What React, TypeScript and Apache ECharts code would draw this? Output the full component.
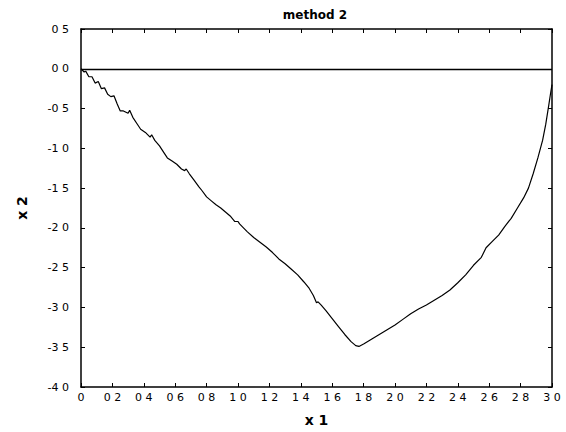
import React, { useEffect, useRef } from "react";
import * as echarts from "echarts";

const titleText = "method 2";
const xName = "x 1";
const yName = "x 2";

const curveX = [
  0, 0.02, 0.03, 0.05, 0.07, 0.09, 0.11, 0.13, 0.15, 0.17, 0.19, 0.21, 0.23, 0.25, 0.27, 0.3, 0.31, 0.33,
  0.36, 0.38, 0.41, 0.44, 0.45, 0.47, 0.5, 0.53, 0.55, 0.58, 0.61, 0.64, 0.66, 0.67, 0.69, 0.72, 0.75,
  0.77, 0.8, 0.83, 0.86, 0.89, 0.92, 0.95, 0.98, 1.0, 1.01, 1.03, 1.06, 1.1, 1.14, 1.18, 1.22, 1.26,
  1.3, 1.34, 1.38, 1.42, 1.45, 1.48, 1.5, 1.51, 1.53, 1.56, 1.6, 1.64, 1.68, 1.72, 1.75, 1.77, 1.8,
  1.85, 1.9, 1.95, 2.0, 2.05, 2.1, 2.15, 2.2, 2.25, 2.3, 2.35, 2.4, 2.45, 2.5, 2.55, 2.58, 2.62, 2.66,
  2.7, 2.74, 2.78, 2.82, 2.85, 2.88, 2.91, 2.94, 2.96, 2.98, 2.99, 3.0,
];
const curveY = [
  0, -0.04, -0.03, -0.1, -0.1, -0.18, -0.16, -0.25, -0.24, -0.32, -0.35, -0.34, -0.44, -0.53, -0.53,
  -0.56, -0.52, -0.61, -0.7, -0.76, -0.8, -0.86, -0.83, -0.9, -0.97, -1.06, -1.12, -1.16, -1.2, -1.26,
  -1.28, -1.26, -1.32, -1.4, -1.48, -1.53, -1.61, -1.66, -1.71, -1.75, -1.8, -1.85, -1.92, -1.92, -1.95,
  -1.99, -2.05, -2.12, -2.18, -2.24, -2.31, -2.39, -2.45, -2.52, -2.59, -2.68, -2.75, -2.85, -2.94, -2.93,
  -2.97, -3.04, -3.14, -3.24, -3.34, -3.43, -3.48, -3.49, -3.46, -3.4, -3.34, -3.28, -3.22, -3.15, -3.08,
  -3.02, -2.97, -2.91, -2.85, -2.78, -2.69, -2.59, -2.47, -2.37, -2.25, -2.17, -2.09, -1.98, -1.88,
  -1.75, -1.62, -1.5, -1.32, -1.12, -0.9, -0.7, -0.45, -0.32, -0.2,
];
const zeroLineY = 0;

const fmt = (v: number) => v.toFixed(1).replace(".", " ");

export default function App() {
  const ref = useRef<HTMLDivElement>(null);
  useEffect(() => {
    document.body.style.margin = "0";
    const chart = echarts.init(ref.current!, null, { renderer: "svg" });
    const font = "DejaVu Sans";
    const axisCommon = {
      type: "value" as const,
      axisLine: { show: true, onZero: false, lineStyle: { color: "#000", width: 1.5 } },
      axisTick: { show: true, inside: true, length: 4, lineStyle: { color: "#000", width: 1 } },
      splitLine: { show: false },
    };
    chart.setOption({
      animation: false,
      backgroundColor: "#fff",
      title: {
        text: titleText,
        left: 310,
        textAlign: "center",
        top: 4,
        textStyle: { fontFamily: font, fontSize: 12, fontWeight: "bold", color: "#000" },
      },
      grid: { left: 81, right: 14, top: 29, bottom: 44 },
      xAxis: [
        {
          ...axisCommon,
          position: "bottom",
          min: 0,
          max: 3,
          interval: 0.2,
          name: xName,
          nameLocation: "middle",
          nameGap: 26,
          nameTextStyle: { fontFamily: font, fontSize: 14, fontWeight: "bold", color: "#000" },
          axisLabel: {
            margin: 5,
            hideOverlap: false,
            fontFamily: font,
            fontSize: 11,
            color: "#000",
            formatter: (v: number) => (v === 0 ? "0" : fmt(v)),
          },
        },
        {
          ...axisCommon,
          position: "top",
          min: 0,
          max: 3,
          interval: 0.2,
          axisLabel: { show: false },
        },
      ],
      yAxis: [
        {
          ...axisCommon,
          position: "left",
          min: -4,
          max: 0.5,
          interval: 0.5,
          name: yName,
          nameLocation: "middle",
          nameGap: 52,
          nameRotate: 90,
          nameTextStyle: { fontFamily: font, fontSize: 14, fontWeight: "bold", color: "#000" },
          axisLabel: {
            margin: 12,
            fontFamily: font,
            fontSize: 11,
            color: "#000",
            formatter: (v: number) => fmt(v),
          },
        },
        {
          ...axisCommon,
          position: "right",
          min: -4,
          max: 0.5,
          interval: 0.5,
          axisLabel: { show: false },
        },
      ],
      series: [
        {
          type: "line",
          data: curveX.map((x, i) => [x, curveY[i]]),
          showSymbol: false,
          symbol: "none",
          lineStyle: { color: "#000", width: 1.2 },
          markLine: {
            silent: true,
            symbol: "none",
            label: { show: false },
            lineStyle: { color: "#000", width: 1.3, type: "solid" },
            data: [{ yAxis: zeroLineY }],
          },
        },
      ],
    });
    return () => chart.dispose();
  }, []);
  return <div ref={ref} style={{ width: 566, height: 432 }} />;
}
